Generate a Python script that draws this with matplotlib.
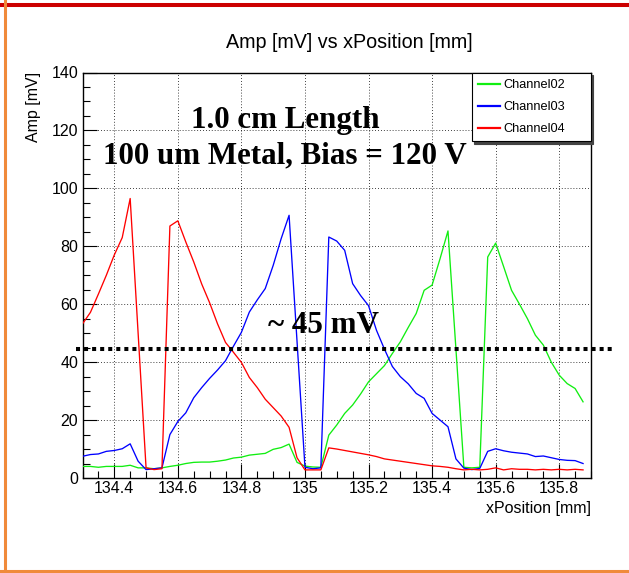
import matplotlib
matplotlib.use("Agg")
import matplotlib.pyplot as plt
from matplotlib.lines import Line2D
from matplotlib.ticker import MultipleLocator, FuncFormatter

# ============================================================
# Data (0.025 mm steps)
# ============================================================
X_START = 134.3
X_STEP = 0.025
N_POINTS = 64
x_pos = [round(X_START + X_STEP * i, 3) for i in range(N_POINTS)]

ch02 = [4.0, 4.0, 3.7, 4.0, 4.0, 4.0, 4.4, 3.5, 3.5, 3.2,
        3.5, 4.0, 4.4, 5.0, 5.4, 5.5, 5.5, 5.8, 6.2, 6.9,
        7.2, 7.9, 8.2, 8.5, 9.9, 10.5, 11.7, 5.4, 4.1, 3.8,
        3.7, 14.8, 18.3, 22.3, 25.2, 29.0, 33.2, 36.0, 38.8, 43.0,
        47.0, 52.0, 56.8, 64.8, 66.6, 75.7, 85.3, 44.5, 3.7, 3.5,
        3.7, 76.3, 81.1, 73.0, 64.8, 60.0, 55.0, 49.3, 45.9, 40.0,
        35.5, 32.6, 30.9, 26.3]

ch03 = [7.5, 8.1, 8.3, 9.2, 9.5, 10.1, 11.8, 5.8, 2.9, 3.2,
        3.5, 15.0, 19.5, 22.5, 27.7, 31.2, 34.4, 37.3, 40.5, 45.5,
        50.3, 57.3, 61.5, 65.4, 73.4, 82.6, 90.7, 47.2, 3.7, 3.2,
        3.5, 83.2, 81.8, 78.6, 67.1, 63.0, 59.5, 51.0, 44.5, 38.5,
        35.0, 32.5, 29.2, 27.5, 22.3, 20.0, 17.7, 6.6, 3.4, 2.9,
        3.3, 9.2, 10.1, 9.4, 8.9, 8.6, 8.3, 7.4, 7.6, 7.0,
        6.4, 6.1, 6.0, 5.0]

ch04 = [53.2, 57.2, 63.5, 70.0, 77.0, 83.0, 96.5, 50.0, 3.5, 2.9,
        3.2, 87.0, 88.8, 81.5, 74.6, 67.0, 60.5, 53.2, 46.8, 43.4,
        39.9, 34.7, 31.2, 27.2, 24.3, 21.4, 17.5, 7.0, 2.8, 2.8,
        2.8, 10.4, 10.0, 9.5, 9.0, 8.5, 8.0, 7.4, 6.6, 6.2,
        5.8, 5.4, 5.0, 4.6, 4.2, 4.0, 3.7, 3.2, 2.8, 3.0,
        2.8, 3.0, 3.5, 2.8, 3.2, 3.0, 3.0, 2.8, 3.0, 2.8,
        3.0, 2.8, 3.0, 2.8]

channels = ["Channel02", "Channel03", "Channel04"]
colors = ["#11ee11", "#0000ff", "#ff0000"]

THRESH_MV = 44.5
THRESH_X = [134.28, 135.972]

X_LIM = (134.3, 135.9)
Y_LIM = (0, 140)

# ============================================================
# Figure (pixel helpers for a 629x573 canvas)
# ============================================================
W, H = 629, 573
def fx(px):
    return px / W
def fy(py):
    return 1 - py / H

plt.rcParams['font.family'] = ['Liberation Sans', 'DejaVu Sans']
fig = plt.figure(figsize=(W / 100, H / 100), dpi=100)
fig.patch.set_facecolor('white')

ax = fig.add_axes([fx(82.5), fy(478), (591 - 82.5) / W, (478 - 72.5) / H])

for ys, name, col in zip([ch02, ch03, ch04], channels, colors):
    ax.plot(x_pos, ys, color=col, lw=0.95, label=name, zorder=3)

ax.set_xlim(*X_LIM)
ax.set_ylim(*Y_LIM)

# ROOT-ish axes
ax.xaxis.set_major_locator(MultipleLocator(0.2))
ax.xaxis.set_minor_locator(MultipleLocator(0.05))
ax.yaxis.set_major_locator(MultipleLocator(20))
ax.yaxis.set_minor_locator(MultipleLocator(5))
ax.xaxis.set_major_formatter(FuncFormatter(lambda v, p: f"{round(v, 3):g}"))
ax.tick_params(which='both', direction='in', top=False, right=False,
               labelsize=11.5, width=0.8)
ax.tick_params(which='major', length=10)
ax.tick_params(which='minor', length=5)
ax.tick_params(axis='x', pad=2.5)
ax.tick_params(axis='y', pad=3.2)
ax.grid(True, which='major', color='black', lw=0.6, linestyle=(0, (1, 2.5)), zorder=1)
for sp in ax.spines.values():
    sp.set_linewidth(1.0)

# threshold line
ax.plot(THRESH_X, [THRESH_MV, THRESH_MV], color='black', lw=2.9,
        linestyle=(0, (1, 1)), dash_capstyle='butt', clip_on=False, zorder=5)

# Legend
leg = ax.legend(loc='upper left',
                bbox_to_anchor=(fx(471.7), fy(137.3), (590.5 - 471.7) / W, (137.3 - 72.7) / H),
                bbox_transform=fig.transFigure, mode='expand', borderaxespad=0,
                fontsize=9.2, frameon=True, fancybox=False, edgecolor='black',
                framealpha=1, handlelength=1.7, handletextpad=0.3,
                labelspacing=0.78, borderpad=0.5,
                shadow={'color': '#444444', 'alpha': 1})
leg.get_frame().set_linewidth(0.8)
for line in leg.get_lines():
    line.set_linewidth(1.6)

# Titles and labels
fig.text(fx(349), fy(42), "Amp [mV] vs xPosition [mm]", ha='center', va='center', fontsize=14.2)
fig.text(fx(591), fy(509), "xPosition [mm]", ha='right', va='center', fontsize=11.5)
fig.text(fx(33.5), fy(72), "Amp [mV]", ha='center', va='top', rotation=90, fontsize=11.5)

# Annotations
serif = ['Liberation Serif', 'DejaVu Serif']
fig.text(fx(285.7), fy(128.3), "1.0 cm Length", ha='center', va='baseline',
         fontsize=22.3, fontweight='bold', family=serif)
fig.text(fx(284.4), fy(163.3), "100 um Metal, Bias = 120 V", ha='center', va='baseline',
         fontsize=22.3, fontweight='bold', family=serif)
fig.text(fx(323.3), fy(333.3), "~ 45 mV", ha='center', va='baseline',
         fontsize=22.3, fontweight='bold', family=serif)

# Page border decorations
fig.add_artist(Line2D([0, 1], [fy(5.3), fy(5.3)], color='#cc0000', lw=2.9, transform=fig.transFigure))
fig.add_artist(Line2D([0, 1], [fy(570.5), fy(570.5)], color='#f08a3a', lw=2.2, transform=fig.transFigure))
fig.add_artist(Line2D([fx(5), fx(5)], [0, 1], color='#f08a3a', lw=2.2, transform=fig.transFigure))

fig.savefig("out.png", dpi=100, facecolor='white')
